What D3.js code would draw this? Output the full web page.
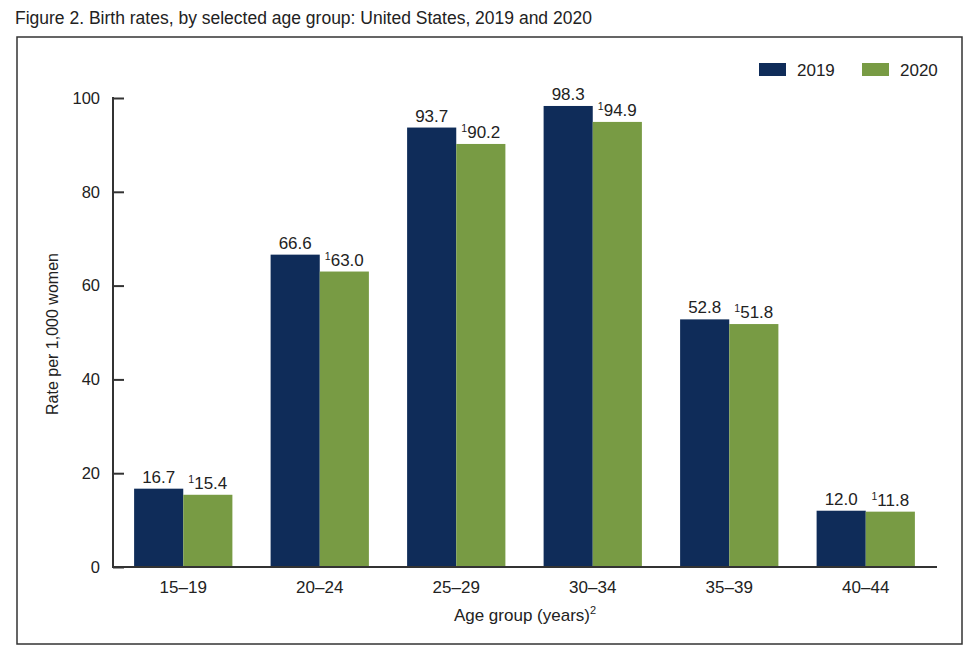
<!DOCTYPE html>
<html><head><meta charset="utf-8">
<script src="https://cdn.jsdelivr.net/npm/d3@7"></script>
<style>body{margin:0;background:#fff}svg{display:block}text{font-family:"Liberation Sans",Arial,sans-serif;fill:#222}</style>
</head><body>
<script>
const categories = ["15–19","20–24","25–29","30–34","35–39","40–44"];
const series = ["2019","2020"];
const values2019 = [16.7, 66.6, 93.7, 98.3, 52.8, 12.0];
const values2020 = [15.4, 63.0, 90.2, 94.9, 51.8, 11.8];
const yTicks = [0,20,40,60,80,100];
const colors = ["#0f2c59","#789b44"];

const W=980,H=664;
const svg=d3.select("body").append("svg").attr("width",W).attr("height",H);

svg.append("text").attr("x",15).attr("y",24).attr("font-size",17.5)
  .text("Figure 2. Birth rates, by selected age group: United States, 2019 and 2020");
svg.append("rect").attr("x",17).attr("y",37).attr("width",945).attr("height",607)
  .attr("fill","none").attr("stroke","#333").attr("stroke-width",1.5);

const x0=d3.scaleBand().domain(categories).range([115,934]).paddingInner(0.28).paddingOuter(0.14);
const x1=d3.scaleBand().domain(series).range([0,x0.bandwidth()]);
const y=d3.scaleLinear().domain([0,100]).range([567,98]);

const data=categories.map((c,i)=>({c,vals:[values2019[i],values2020[i]]}));
const g=svg.append("g");
const grp=g.selectAll("g.grp").data(data).join("g").attr("transform",d=>`translate(${x0(d.c)},0)`);
grp.selectAll("rect").data(d=>d.vals.map((v,j)=>({v,s:series[j],j}))).join("rect")
  .attr("x",d=>x1(d.s)).attr("width",x1.bandwidth())
  .attr("y",d=>y(d.v)).attr("height",d=>y(0)-y(d.v)).attr("fill",d=>colors[d.j]);
const lbl=grp.selectAll("text").data(d=>d.vals.map((v,j)=>({v,s:series[j],j}))).join("text")
  .attr("x",d=>x1(d.s)+x1.bandwidth()/2).attr("y",d=>y(d.v)-6)
  .attr("text-anchor","middle").attr("font-size",17);
lbl.each(function(d){
  const t=d3.select(this);
  if(d.j===1){ t.append("tspan").attr("font-size",10.5).attr("dy",-6).text("1");
    t.append("tspan").attr("dy",6).text(d.v.toFixed(1)); }
  else t.text(d.v.toFixed(1));
});

// axes
const yAxis=d3.axisLeft(y).tickValues(yTicks).tickSize(-11).tickPadding(24).tickFormat(d3.format("d"));
const ya=svg.append("g").attr("transform","translate(113,0)").call(yAxis);
ya.select(".domain").remove();
ya.selectAll(".tick line").attr("stroke","#333").attr("stroke-width",2);
ya.selectAll(".tick text").attr("font-size",16.5).attr("font-family","Liberation Sans, Arial, sans-serif").attr("fill","#222").attr("x",-13);
svg.append("line").attr("x1",113).attr("x2",113).attr("y1",97).attr("y2",568).attr("stroke","#333").attr("stroke-width",2);
svg.append("line").attr("x1",112).attr("x2",937).attr("y1",567).attr("y2",567).attr("stroke","#333").attr("stroke-width",2);

const xAxis=d3.axisBottom(x0).tickSize(0).tickPadding(14);
const xa=svg.append("g").attr("transform","translate(0,567)").call(xAxis);
xa.select(".domain").remove();
xa.selectAll(".tick text").attr("font-size",17).attr("font-family","Liberation Sans, Arial, sans-serif").attr("fill","#222");

const xt=svg.append("text").attr("x",525).attr("y",621).attr("text-anchor","middle").attr("font-size",17);
xt.append("tspan").text("Age group (years)");
xt.append("tspan").attr("font-size",11).attr("dy",-7).text("2");

svg.append("text").attr("transform","translate(58,334) rotate(-90)").attr("text-anchor","middle")
  .attr("font-size",16).text("Rate per 1,000 women");

// legend
const lg=svg.append("g").selectAll("g").data(series).join("g")
  .attr("transform",(d,i)=>`translate(${759+i*103},63)`);
lg.append("rect").attr("width",27).attr("height",13).attr("fill",(d,i)=>colors[i]);
lg.append("text").attr("x",38).attr("y",13).attr("font-size",17).text(d=>d);
</script>
</body></html>
